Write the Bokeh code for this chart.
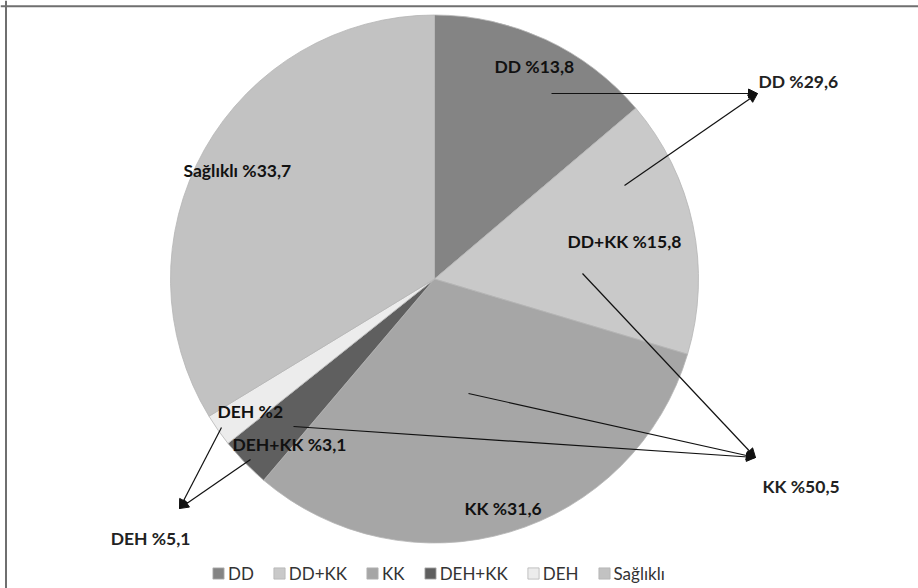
import numpy as np
from bokeh.plotting import figure
from bokeh.models import ColumnDataSource, Range1d, Arrow, NormalHead, Label, Legend, LegendItem, Span
from bokeh.embed import file_html
from bokeh.resources import INLINE

# ---------------- data ----------------
categories = ["DD", "DD+KK", "KK", "DEH+KK", "DEH", "Sağlıklı"]
percents = [13.8, 15.8, 31.6, 3.1, 2.0, 33.7]
colors = ["#848484", "#c9c9c9", "#a6a6a6", "#5f5f5f", "#ececec", "#c2c2c2"]

# grouped totals shown outside the pie (sum of member slices)
group_names = ["DD", "KK", "DEH"]
group_members = [["DD", "DD+KK"], ["DD+KK", "KK", "DEH+KK"], ["DEH", "DEH+KK"]]


def fmt(v):
    s = ("%.1f" % v).rstrip("0").rstrip(".")
    return "%" + s.replace(".", ",")


# ---------------- layout (pixel space of the 918x588 page) ----------------
W, H = 918, 588
CX, CY, R = 434, 278.5, 264.0


def px(x, y):
    return (x - CX) / R, (CY - y) / R


slice_label_pos = {  # left x, middle y
    "DD": (494, 66), "DD+KK": (567, 241), "KK": (464, 508),
    "DEH+KK": (232, 444), "DEH": (217, 411), "Sağlıklı": (183, 170),
}
# arrow starts: (slice, pixel x, pixel y)
arrow_starts = [
    [("DD", 551, 93), ("DD+KK", 624, 185)],
    [("DD+KK", 582, 273), ("KK", 468, 393), ("DEH+KK", 293, 426)],
    [("DEH", 221, 427), ("DEH+KK", 250, 459)],
]
group_tips = [(757, 93), (755, 457), (179, 508)]
group_label_pos = [((758, 81), "left"), ((762, 486), "left"), ((190, 538), "right")]

# ---------------- figure ----------------
x0, y1 = px(0, 0)
x1, y0 = px(W, H)
p = figure(width=W, height=H, x_range=Range1d(x0, x1), y_range=Range1d(y0, y1),
           output_backend="svg", toolbar_location=None, min_border=0,
           x_axis_type=None, y_axis_type=None)
p.grid.visible = False
p.outline_line_color = None
p.background_fill_color = "white"
p.border_fill_color = "white"

frac = np.array(percents) / 100.0
cum = np.cumsum(frac)
start = np.deg2rad(90 - 360 * np.concatenate([[0], cum[:-1]]))
end = np.deg2rad(90 - 360 * cum)
src = ColumnDataSource(dict(cat=categories, start=start, end=end, color=colors))
r = p.wedge(x=0, y=0, radius=1, start_angle="start", end_angle="end", direction="clock",
            fill_color="color", line_color="#b5b5b5", line_width=0.8, source=src)

FONT = "Lato"
LBL_SIZE = "17.5px"
for c, v in zip(categories, percents):
    lx, ly = px(*slice_label_pos[c])
    p.add_layout(Label(x=lx, y=ly, text="%s %s" % (c, fmt(v)), text_font=FONT,
                       text_font_size=LBL_SIZE, text_font_style="bold", text_color="#111111",
                       text_align="left", text_baseline="middle"))

val = dict(zip(categories, percents))
for gname, members, starts, tip, (lpos, align) in zip(group_names, group_members, arrow_starts,
                                                         group_tips, group_label_pos):
    total = sum(val[m] for m in members)
    tx, ty = px(*tip)
    for (_, sx, sy) in starts:
        ax, ay = px(sx, sy)
        p.add_layout(Arrow(end=NormalHead(size=9, fill_color="#111111", line_color="#111111"),
                           x_start=ax, y_start=ay, x_end=tx, y_end=ty,
                           line_color="#111111", line_width=1.2))
    lx, ly = px(*lpos)
    p.add_layout(Label(x=lx, y=ly, text="%s %s" % (gname, fmt(total)), text_font=FONT,
                       text_font_size=LBL_SIZE, text_font_style="bold", text_color="#222222",
                       text_align=align, text_baseline="middle"))

# frame lines (top & left visible in the reference)
_, ty = px(0, 5.7)
lx, _ = px(5.5, 0)
p.add_layout(Span(location=ty, dimension="width", line_color="#6f6f6f", line_width=2))
p.add_layout(Span(location=lx, dimension="height", line_color="#6f6f6f", line_width=2))

legend = Legend(items=[LegendItem(label=c, renderers=[r], index=i) for i, c in enumerate(categories)],
                orientation="horizontal", location=(211, 4.5), glyph_width=14, glyph_height=14,
                label_standoff=3, spacing=18, padding=0, margin=0, border_line_color=None,
                background_fill_alpha=0, label_text_font=FONT, label_text_font_size="17px",
                label_text_color="#333333")
p.add_layout(legend)

open("out.html", "w").write(file_html(p, INLINE))
